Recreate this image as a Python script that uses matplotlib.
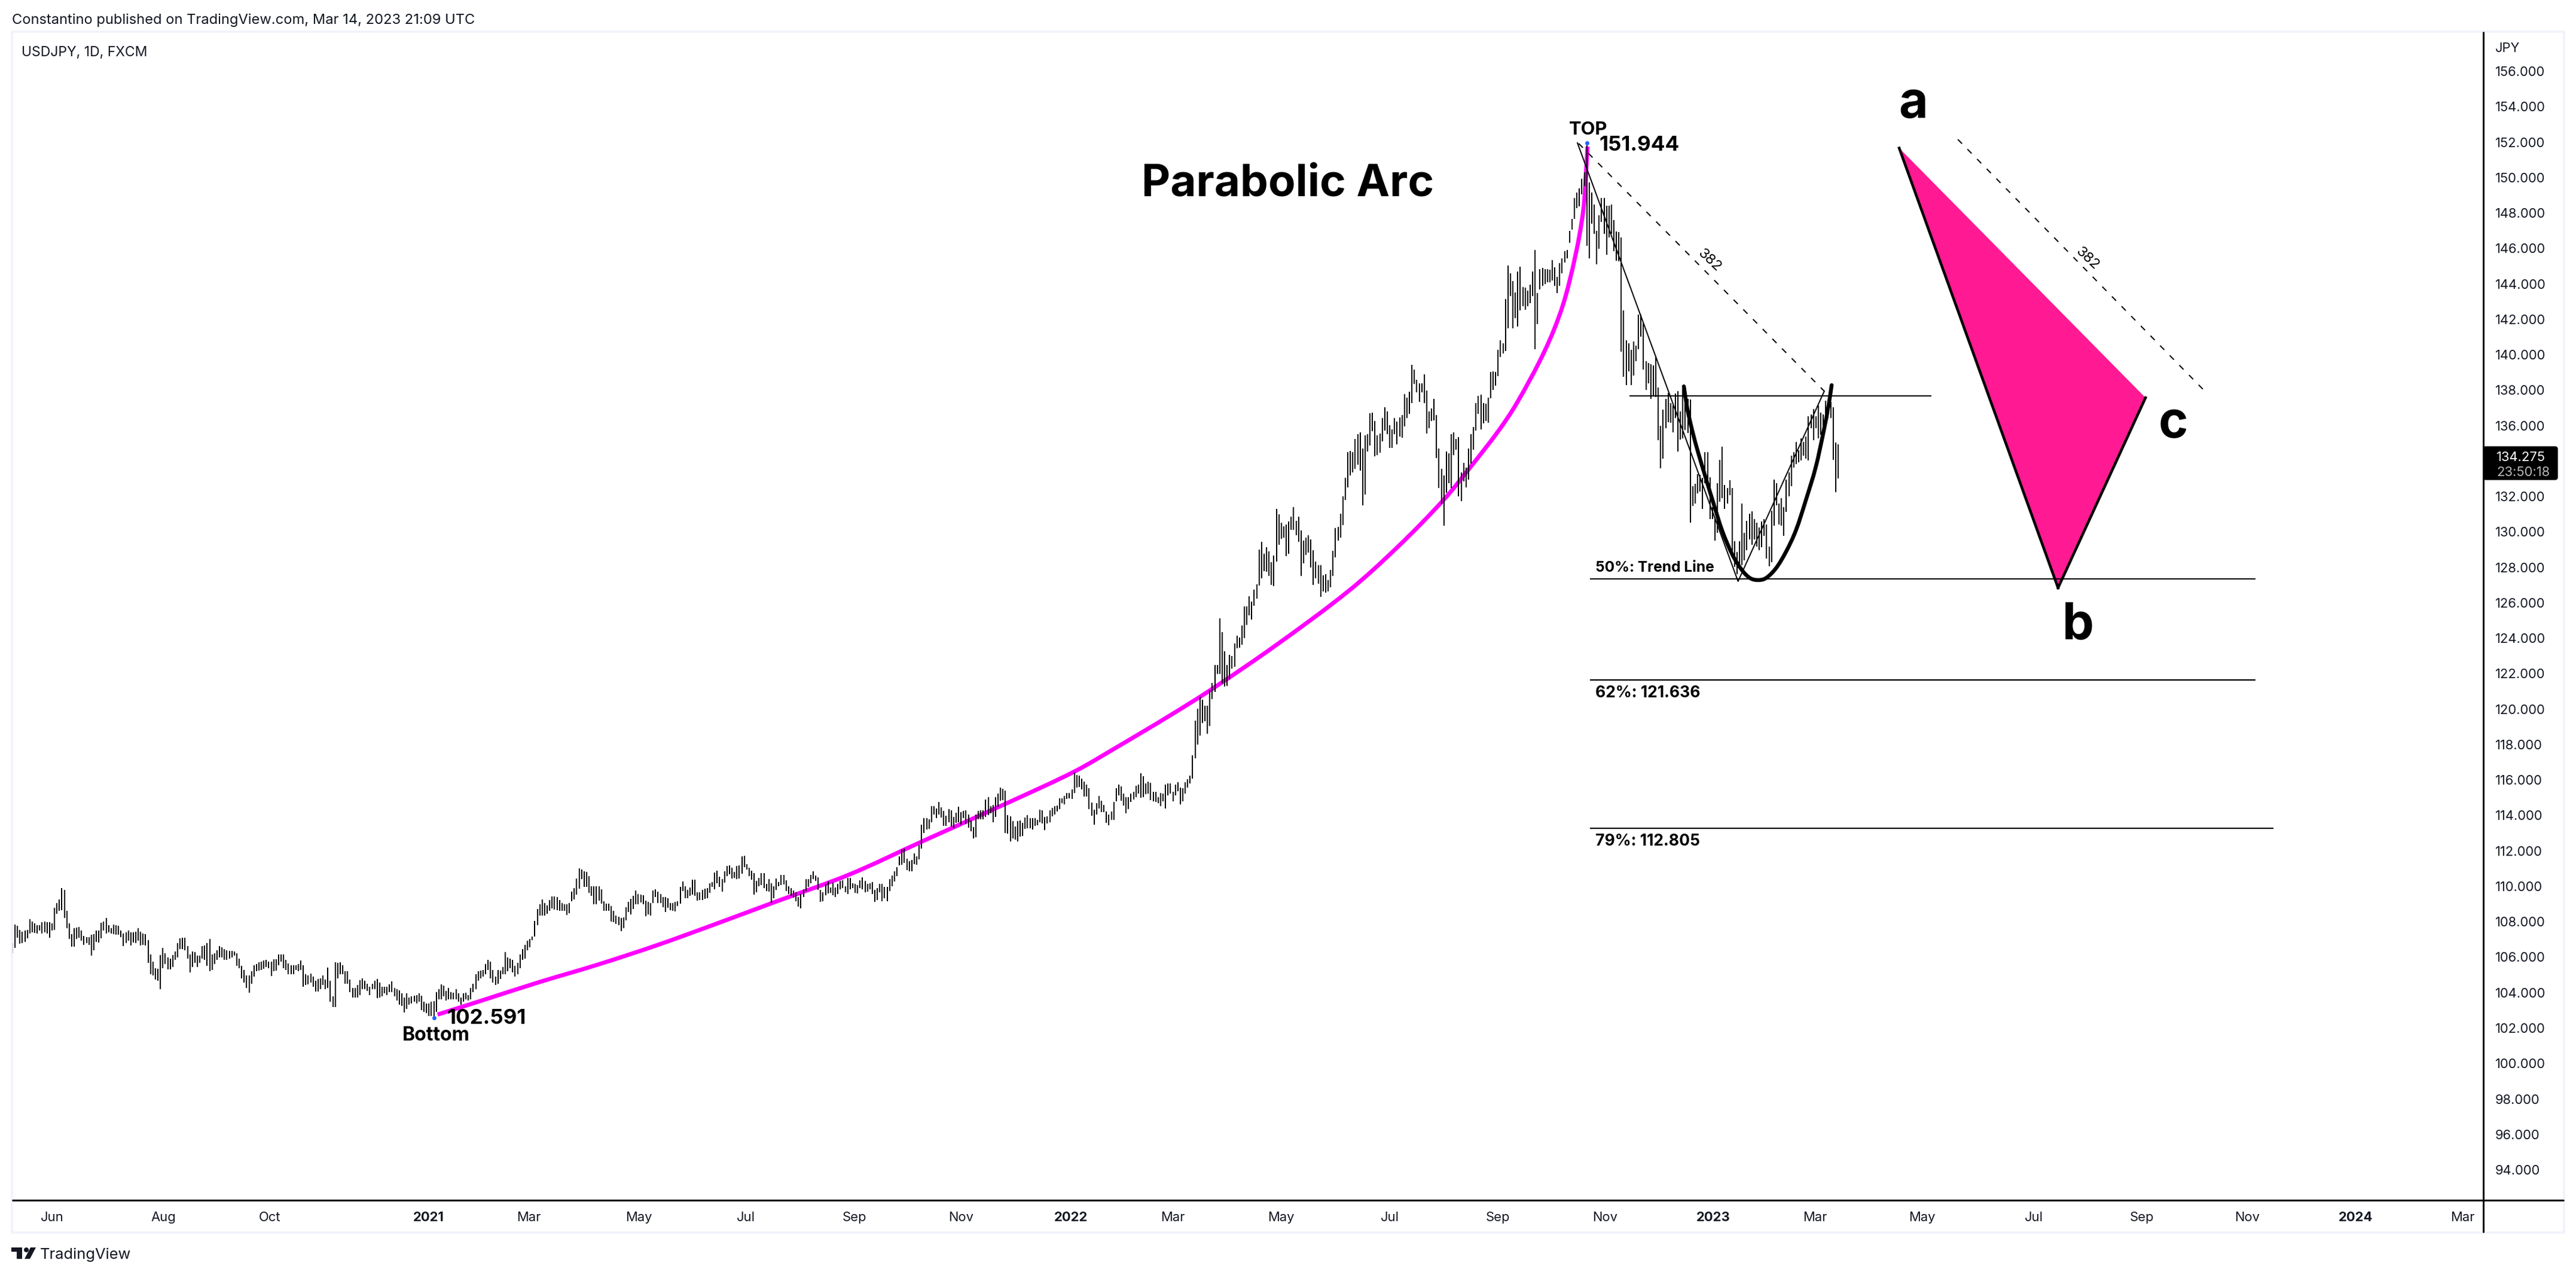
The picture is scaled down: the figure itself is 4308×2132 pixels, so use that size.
import numpy as np
import matplotlib
matplotlib.use("Agg")
import matplotlib.pyplot as plt
from matplotlib.patches import Polygon, Circle, FancyBboxPatch, Rectangle, PathPatch
from matplotlib.path import Path

# ---- Daily bars (high, low) ----
bars_2020 = [
(106.78,106.23),(107.84,106.52),(107.76,107.10),(107.54,106.75),(107.44,106.78),(107.49,106.86),(107.54,107.07),(108.14,107.33),(108.01,107.41),(107.89,107.38),
(107.81,107.33),(107.81,107.49),(107.96,107.33),(108.00,107.41),(107.96,107.33),(107.96,107.10),(107.89,107.49),(108.80,107.54),(109.04,108.44),(109.24,108.60),
(109.89,108.64),(109.78,108.20),(108.61,107.62),(107.89,107.02),(107.29,106.59),(107.65,106.59),(107.68,107.02),(107.71,107.10),(107.49,106.94),(107.21,106.70),
(107.13,106.78),(107.13,106.70),(107.26,106.07),(107.29,106.39),(107.49,106.86),(107.49,106.81),(107.93,107.07),(108.01,107.49),(108.20,107.33),(107.81,107.41),
(107.65,107.33),(107.84,107.29),(107.81,107.26),(107.76,107.26),(107.49,107.13),(107.33,106.63),(107.41,106.78),(107.49,106.94),(107.41,106.67),(107.41,106.81),
(107.44,106.78),(107.62,106.94),(107.44,106.66),(107.33,106.70),(107.29,106.66),(106.97,105.68),(106.15,105.05),(105.76,104.97),(105.37,104.73),(105.33,104.66),
(106.12,104.18),(106.53,105.37),(106.23,105.60),(105.99,105.32),(105.92,105.32),(106.12,105.44),(106.31,105.84),(106.78,105.99),(107.07,106.47),(107.10,106.47),
(107.10,106.39),(106.63,105.92),(106.15,105.13),(106.31,105.44),(106.28,105.68),(106.07,105.44),(106.07,105.68),(106.63,105.92),(106.66,105.84),(106.78,105.52),
(107.02,105.21),(106.15,105.29),(106.23,105.60),(106.39,105.84),(106.63,105.99),(106.55,105.99),(106.47,105.84),(106.39,105.84),(106.34,105.92),(106.34,105.99),
(106.31,106.07),(106.23,105.52),(105.92,105.37),(105.52,104.81),(105.29,104.58),(104.97,104.26),(104.97,103.99),(105.21,104.50),(105.55,104.89),(105.60,105.21),
(105.71,105.24),(105.76,105.29),(105.81,105.33),(105.84,105.44),(105.76,105.37),(105.76,104.94),(105.87,105.21),(105.88,105.24),(106.15,105.55),(106.15,105.76),
(106.15,105.37),(105.84,105.29),(105.65,105.05),(105.55,105.05),(105.55,105.05),(105.55,105.29),(105.60,105.21),(105.81,105.29),(105.55,104.34),(105.05,104.42),
(104.97,104.47),(105.08,104.58),(104.89,104.34),(104.66,104.07),(104.77,104.07),(104.81,104.18),(104.97,104.42),(104.73,104.18),(105.40,104.26),(104.66,103.47),
(103.79,103.19),(105.71,103.19),(105.68,104.81),(105.73,105.05),(105.55,105.05),(105.21,104.50),(105.21,104.50),(104.73,104.03),(104.26,103.71),(104.26,103.71),
(104.42,103.71),(104.70,103.87),(104.81,104.18),(104.66,104.18),(104.50,104.10),(104.34,103.87),(104.50,104.18),(104.66,104.18),(104.77,103.68),(104.58,103.71),
(104.34,103.79),(104.34,103.95),(104.34,103.87),(104.47,104.03),(104.62,104.03),(104.26,103.79),(104.18,103.55),(104.14,103.32),(103.95,103.24),(103.71,102.89),
(103.95,103.08),(103.71,103.32),(103.79,103.40),(103.82,103.47),(103.87,103.40),(103.95,103.47),(103.82,103.00),(103.47,102.92),(103.40,102.84),(103.40,102.69),
(103.47,102.69),(103.52,102.591),
]
bars_2021a = [
(104.03,102.92),(104.18,103.63),(104.47,103.63),(104.39,103.79),(104.10,103.55),(104.26,103.63),(104.03,103.63),(103.98,103.63),(104.18,103.63),(103.95,103.47),
(103.71,103.32),(103.95,103.47),(103.98,103.63),(103.87,103.55),(104.26,103.63),(104.50,104.03),(105.05,104.18),(105.21,104.66),(105.24,104.81),(105.29,104.89),
(105.60,105.05),(105.84,105.29),(105.76,104.81),(105.29,104.58),(104.89,104.42),(105.29,104.50),(105.24,104.77),(105.44,105.05),(106.28,105.05),(105.99,105.21),
(105.92,105.37),(105.84,105.13),(105.52,104.92),(105.68,105.05),(106.15,105.37),(106.47,105.84),(106.70,105.92),(106.94,106.39),(107.02,106.55),(107.18,106.97),
(108.04,107.18),(108.71,107.81),(108.99,108.36),(109.27,108.33),(109.07,108.33),(108.91,108.44),(109.23,108.60),(109.41,108.75),(109.41,108.67),(109.38,108.64),
(109.23,108.60),(109.07,108.60),(108.99,108.60),(108.99,108.39),(109.07,108.49),(109.70,109.15),(109.89,109.27),(110.44,109.54),(111.00,109.86),(110.96,110.41),
(110.85,109.97),(110.80,109.97),(110.56,109.62),(110.01,109.46),(110.01,108.99),
]
bars_2021b = [
(109.99,109.00),(110.01,109.20),(109.82,109.03),(109.17,108.63),(109.03,108.63),(109.03,108.63),(108.89,108.01),(108.60,107.99),(108.35,107.87),(108.27,107.82),
(108.21,107.48),(108.25,107.65),(108.83,108.07),(109.11,108.55),(109.30,108.40),(109.45,108.72),(109.76,109.00),(109.56,109.00),(109.53,109.08),(109.48,109.00),
(109.19,108.31),(109.11,108.40),(109.05,108.36),(109.76,109.05),(109.82,109.39),(109.71,109.05),(109.56,109.05),(109.39,108.83),(109.39,108.55),(109.34,108.80),
(109.05,108.66),(109.05,108.63),(109.11,108.57),(109.17,108.89),(109.95,109.02),(110.27,109.73),(110.01,109.34),(109.79,109.34),(109.93,109.45),(110.37,109.51),
(110.37,109.45),(109.67,109.20),(109.67,109.22),(109.79,109.22),(109.87,109.28),(109.90,109.34),(110.18,109.62),(110.24,109.95),(110.77,109.82),(110.88,110.18),
(110.54,109.95),(110.40,109.71),(110.85,110.20),(111.14,110.57),(111.17,110.69),(111.05,110.43),(110.80,110.46),(111.14,110.40),(111.19,110.43),(111.70,110.72),
(111.72,111.08),(111.25,110.95),(111.05,110.57),(110.88,110.38),(110.74,109.53),(110.29,109.65),(110.46,109.99),(110.74,110.07),(110.74,109.90),(110.12,109.73),
(110.40,109.71),(110.18,109.05),(110.01,109.34),(110.43,109.79),(110.24,110.01),(110.63,110.07),(110.63,110.09),(110.35,109.73),(110.01,109.56),(109.90,109.45),
(109.75,109.37),(109.67,109.17),(109.39,108.85),(109.56,108.74),(109.84,109.39),(110.40,109.73),(110.40,109.95),(110.63,110.18),(110.83,110.40),(110.61,110.29),
(110.52,109.79),(109.79,109.11),(109.67,109.15),(110.12,109.50),(110.27,109.60),(109.93,109.62),(110.20,109.50),(109.93,109.39),(110.12,109.56),(110.29,109.82),
(110.35,109.90),(110.01,109.67),(110.46,109.56),(110.46,109.84),(110.16,109.90),(110.12,109.62),(110.07,109.60),(110.35,109.90),(110.50,109.82),(110.29,109.67),
(110.12,109.71),(110.16,109.82),(110.24,109.56),(109.79,109.11),(109.90,109.22),(110.12,109.67),(110.12,109.17),(109.95,109.34),(109.95,109.15),(110.40,109.73),(110.60,110.00),
(110.83,110.27),(111.08,110.57),(111.70,111.19),(112.09,111.22),(112.12,111.30),(111.55,110.91),(111.40,110.83),(111.47,110.83),(111.87,111.25),(111.70,111.22),
(112.32,111.51),(113.46,112.12),(113.84,113.01),(113.84,113.22),(113.78,113.24),(114.51,113.61),(114.51,114.06),(114.40,113.84),(114.76,114.06),(114.45,113.89),
(114.25,113.42),(113.98,113.42),(114.34,113.61),(114.29,113.39),(113.91,113.27),(114.14,113.58),(114.49,113.61),(114.17,113.46),(114.25,113.84),(114.29,113.50),
(114.06,113.30),(113.72,113.10),(113.33,112.71),(114.06,112.77),(114.25,113.78),(114.29,113.78),(114.29,113.78),(114.88,113.91),(115.02,114.00),(114.51,114.12),
(114.59,113.61),(115.02,113.91),(115.22,114.48),(115.56,114.81),(115.50,114.85),(115.39,112.99),(114.00,112.97),(113.95,112.54),(113.67,112.69),(113.39,112.63),
(113.67,112.54),(113.70,112.80),(113.56,112.82),(113.89,113.24),(114.00,113.27),(113.84,113.27),(113.84,113.22),(113.84,113.41),(113.76,113.44),(114.32,113.61),(114.29,113.53),
(113.91,113.16),(113.95,113.53),(114.29,113.61),(114.43,113.95),(114.51,114.06),(114.55,114.23),(114.96,114.34),(114.96,114.68),(115.10,114.62),(115.27,114.93),
(115.27,114.96),(115.45,114.93),(116.40,115.27),(116.28,115.58),(116.23,115.60),(116.09,115.47),(115.92,115.07),(115.75,115.07),(115.52,114.36),(114.74,113.98),
(114.32,113.48),(114.68,114.06),(115.10,114.40),(114.81,114.17),(114.59,114.17),(114.21,113.58),(114.06,113.44),(114.21,113.76),(114.76,113.76),(115.52,114.79),
(115.75,115.13),(115.64,114.81),(115.22,114.57),(115.02,114.12),(115.02,114.34),(115.24,114.77),(115.33,114.88),(115.67,115.02),(115.73,115.22),(116.37,114.99),
(116.20,115.02),(115.80,115.19),(115.90,115.24),(115.83,114.85),(115.33,114.79),(115.33,114.77),(115.02,114.70),(115.27,114.51),(115.24,114.79),(115.75,114.40),
(115.80,115.13),(115.80,115.24),(115.33,114.79),(115.75,115.13),(115.86,115.36),(115.58,114.62),(115.52,114.79),(115.86,115.22),(116.03,115.58),(116.25,115.80),
(117.38,116.09),
]
bars_2022a = [
(119.35,117.22),(120.02,118.00),(120.70,118.50),(120.53,119.20),(120.20,119.30),(120.20,118.60),
(121.07,119.03),(121.47,120.57),(122.47,120.96),(122.47,121.97),(125.13,121.97),(124.34,121.44),(123.25,121.26),(122.47,121.29),(123.07,121.67),(123.00,122.27),
(123.70,122.38),(124.13,123.43),(124.03,123.48),(124.71,123.63),(125.81,124.00),(125.81,124.76),(126.37,125.29),(126.08,125.06),(126.75,125.84),(127.05,126.23),
(129.01,126.97),(129.43,127.39),(128.75,127.80),(129.13,127.74),(128.90,127.50),(128.30,127.02),(128.65,126.93),(131.28,128.34),(130.98,129.28),(130.51,129.61),
(130.33,129.66),(130.41,128.63),(130.60,128.75),(130.86,130.11),(131.39,130.11),(130.63,129.81),(130.86,129.43),(130.08,127.52),(129.50,128.22),(129.69,128.68),
(129.81,128.83),(129.58,128.00),(128.98,127.02),(128.33,127.39),(128.12,127.09),(128.12,126.34),(127.55,126.64),(127.62,126.57),(127.29,126.64),(127.85,126.87),
(128.93,127.52),(130.23,128.57),(130.29,129.50),(131.01,129.66),(132.02,130.38),(133.05,131.81),(134.51,132.52),(134.58,133.20),(134.51,133.35),(135.23,133.57),
(135.50,133.80),(135.61,133.47),(134.70,131.49),(135.46,132.11),(135.50,134.52),(136.71,134.88),(136.74,135.68),(136.25,134.25),(135.46,134.33),(135.56,134.48),
(136.41,135.11),(137.04,135.73),(136.81,135.53),(136.01,134.73),(135.80,134.75),(136.41,135.53),(136.21,134.93),(136.47,135.38),(136.59,135.31),(137.76,135.94),
(137.57,136.43),(137.91,136.66),(139.42,137.26),(139.16,138.35),(138.59,137.87),(138.39,137.34),(138.39,137.87),(138.88,137.26),(137.97,135.56),(136.81,135.86),
(136.96,136.24),(137.49,136.28),(136.59,134.17),(134.70,132.49),(133.57,131.58),(133.20,130.36),(134.55,132.22),(134.45,132.74),(135.53,132.49),(135.61,134.33),
(135.26,134.63),(135.34,132.02),(133.35,131.73),(133.90,132.85),(133.62,132.52),(134.70,132.94),(135.53,133.87),(135.91,134.63),(137.26,135.71),(137.67,136.66),
(137.75,135.79),(137.26,136.13),(137.23,136.24),(137.57,136.16),(139.04,137.54),(139.07,138.02),(139.04,138.24),(140.28,138.80),(140.80,139.86),(140.65,140.08),
(143.14,140.20),
]
bars_2022b = [
(145.03,141.48),(144.58,143.32),(144.14,141.48),(143.52,142.06),(144.68,141.58),(144.97,142.51),(143.81,142.74),(143.77,142.55),(143.61,142.74),(143.94,142.90),
(144.68,143.32),(145.90,140.32),(143.48,141.73),(144.83,143.67),(144.91,143.90),(144.83,144.00),(144.83,144.10),(144.81,144.10),(145.32,144.19),(144.93,143.90),
(144.39,143.48),(145.16,143.90),(145.45,144.58),(145.84,145.20),(145.92,145.45),(147.00,146.33),(147.68,147.04),(148.85,147.68),(149.14,148.26),(149.39,148.36),
(149.91,149.04),(150.30,149.52),(151.944,146.13),(149.72,145.45),(149.14,147.39),(148.46,146.81),(147.00,145.10),(147.88,145.98),(148.85,147.49),(148.85,146.81),
(148.42,145.65),(148.42,146.62),(148.46,146.81),(147.59,145.84),(146.97,145.30),(146.91,145.26),(146.62,140.18),(142.49,138.77),(140.80,138.28),(140.65,139.06),
(140.28,138.28),(140.74,138.83),(140.51,139.64),(142.26,140.32),(142.26,141.00),(141.77,139.16),(139.64,138.00),(139.54,138.38),(139.45,137.51),(139.39,137.70),
(139.93,137.60),(138.13,135.18),(136.00,133.59),(136.89,134.12),(137.51,135.86),(137.84,136.19),(137.28,136.15),(137.12,135.61),(137.80,136.44),(137.95,134.54),
(136.79,135.22),(138.09,135.28),(137.22,135.76),(137.51,135.57),(137.47,130.53),(132.57,131.46),(132.70,131.60),(133.24,132.18),(133.21,132.28),(133.05,131.31),
(134.50,132.76),(134.50,132.76),(133.09,130.72),(131.40,130.72),(130.82,129.50),(132.76,129.95),(134.06,131.69),(134.80,131.89),(132.66,131.31),(132.47,131.60),
(132.90,132.08),(132.47,128.79),(129.47,128.01),(128.88,127.62),(129.47,127.91),(131.60,128.11),(129.95,128.40),(130.63,128.98),(131.02,129.56),(131.15,129.27),
(130.72,129.56),(130.53,129.17),(130.24,128.98),(130.57,129.14),(130.72,129.76),(130.43,128.50),(129.17,128.05),(131.21,128.30),(132.95,130.34),(132.76,131.50),
(131.60,130.43),(131.89,130.34),(131.40,129.76),(132.95,131.11),(133.34,131.99),(134.31,132.57),(134.50,133.63),(135.08,133.83),(134.60,133.92),(135.28,134.02),
(135.08,134.31),(135.38,134.12),(136.54,134.02),(136.64,135.86),(136.93,135.18),(136.54,135.86),(137.12,135.28),(136.73,135.47),(136.64,135.28),(137.41,135.96),
(137.02,136.44),(137.35,136.44),(137.02,134.06),(135.05,132.24),(134.93,133.00),(134.28,134.25),
]

# ---- Drawings on the chart (bar number, price) ----
arc_x = [172.5,189.1,213.3,237.6,261.9,285,309.6,339.8,369.2,404.1,431.1,448,468.4,486.2,513.1,542.7,562.6,581.1,592.2,603.4,610.9,622.1,629.4,634.5,637.6,638.8,639.3]
arc_y = [102.76,103.49,104.57,105.58,106.69,107.85,109.12,110.67,112.53,114.72,116.48,117.83,119.52,121.07,123.63,126.71,129.2,131.84,133.73,135.75,137.34,140.27,142.84,145.67,148.17,150.5,151.75]
cup_x = [678.4,679.8,681.8,684.2,687.1,690.3,693.9,698,702,705.3,708.5,711.7,715.8,719.8,723.9,727.9,732,735.2,737.2,738.4]
cup_y = [138.21,136.96,135.72,134.48,133.13,131.67,130.09,128.74,127.84,127.39,127.28,127.39,127.95,128.86,130.09,131.78,133.69,135.72,137.18,138.28]
zigzag_x = [635.2,700.4,735.4]
zigzag_y = [151.95,127.21,137.94]
dash1_x = [635.7,735.4]
dash1_y = [151.92,137.94]
dash2_x = [789.6,889.1]
dash2_y = [152.15,138.05]
tri_x = [765.8,830.3,865.8]
tri_y = [151.66,126.84,137.57]
levels = [137.66,127.35,121.65,113.27]
level_start = [656.3,640.3,640.3,640.3]
level_end = [778.8,910.4,910.4,917.7]
extreme_x = [639,171]
extreme_y = [151.944,102.591]

# ---- Axis labels ----
price_ticks = [156,154,152,150,148,146,144,142,140,138,136,132,130,128,126,124,122,120,118,116,114,112,110,108,106,104,102,100,98,96,94]
time_labels = ["Jun","Aug","Oct","2021","Mar","May","Jul","Sep","Nov","2022","Mar","May","Jul","Sep","Nov","2023","Mar","May","Jul","Sep","Nov","2024","Mar"]
time_pos = [16.2,61.2,104.3,169,209.6,254.3,297.6,341.6,385,429.6,471,515,559,603,646.4,690.4,731.7,775,820.4,864.4,907,951,994.4]

bars = bars_2020 + bars_2021a + bars_2021b + bars_2022a + bars_2022b
idx = np.arange(len(bars))
highs = [b[0] for b in bars]
lows = [b[1] for b in bars]


def smooth_path(xs, ys):
    """Bezier path passing through the read points (Catmull-Rom tangents)."""
    pts = np.column_stack([xs, ys])
    verts = [pts[0]]
    codes = [Path.MOVETO]
    for i in range(len(pts) - 1):
        p0 = pts[max(i - 1, 0)]
        p1, p2 = pts[i], pts[i + 1]
        p3 = pts[min(i + 2, len(pts) - 1)]
        h = p2 - p1
        t1 = (p2 - p0) / max(np.hypot(*(p2 - p0)), 1e-9) * np.hypot(*h) / 3
        t2 = (p3 - p1) / max(np.hypot(*(p3 - p1)), 1e-9) * np.hypot(*h) / 3
        verts += [p1 + t1, p2 - t2, p2]
        codes += [Path.CURVE4] * 3
    return Path(verts, codes)


W, H = 4308, 2132
DPI = 100
PT = 72 / DPI
plt.rcParams["font.family"] = ["Inter", "DejaVu Sans"]
fig = plt.figure(figsize=(W / DPI, H / DPI), dpi=DPI, facecolor="white")

L, R, T, B = 20, 4153, 53, 2007
ax = fig.add_axes([L / W, 1 - B / H, (R - L) / W, (B - T) / H])
ax.set_xlim((L - 21) / 4.12, (R - 21) / 4.12)
ax.set_ylim(156 - (B - 119) / 29.63, 156 - (T - 119) / 29.63)
ax.axis("off")

ax.add_patch(PathPatch(smooth_path(arc_x, arc_y), fc="none", ec="#ff00ff", lw=7 * PT, capstyle="butt", joinstyle="round", zorder=2))
ax.vlines(idx, lows, highs, color="black", lw=2 * PT, zorder=3)
ax.add_patch(PathPatch(smooth_path(cup_x, cup_y), fc="none", ec="black", lw=6.5 * PT, capstyle="round", joinstyle="round", zorder=4))
ax.plot(zigzag_x, zigzag_y, color="black", lw=2 * PT, zorder=4)
ax.plot(dash1_x, dash1_y, color="black", lw=2 * PT, dashes=(5, 6.5), zorder=4)
ax.plot(dash2_x, dash2_y, color="black", lw=2 * PT, dashes=(5, 6.5), zorder=4)
for lev, s, e in zip(levels, level_start, level_end):
    ax.hlines(lev, s, e, color="black", lw=2.2 * PT, zorder=4)
ax.fill(tri_x, tri_y, color="#ff1a93", lw=0, zorder=3)
ax.plot(tri_x[:2], tri_y[:2], color="black", lw=4.5 * PT, zorder=4)
ax.plot(tri_x[1:], tri_y[1:], color="black", lw=4.5 * PT, zorder=4)
ax.scatter(extreme_x, extreme_y, s=(7 * PT) ** 2, color="#2962ff", zorder=5, lw=0)

# Overlay in figure pixels for the frame, scales and text
pix = fig.add_axes([0, 0, 1, 1], facecolor="none")
pix.set_xlim(0, W)
pix.set_ylim(H, 0)
pix.axis("off")

frame = "#f0f3fa"
pix.add_patch(Rectangle((L, T), 4288 - L, 2061 - T, fill=False, ec=frame, lw=3.5 * PT))
pix.plot([R, R], [T, 2061], color="black", lw=3 * PT, solid_capstyle="butt")
pix.plot([L, 4288], [B, B], color="black", lw=3 * PT, solid_capstyle="butt")

def t(x, y, s, px, ha="left", weight="normal", color="black", rot=0):
    pix.text(x, y, s, fontsize=px * PT, ha=ha, va="center", fontweight=weight, color=color,
             rotation=rot, rotation_mode="anchor")

t(20, 34, "Constantino published on TradingView.com, Mar 14, 2023 21:09 UTC", 23.7, color="#131722")
t(36, 88, "USDJPY, 1D, FXCM", 23, color="#131722")
t(4173, 81, "JPY", 22, color="#131722")
for p in price_ticks:
    t(4173, 121 + (156 - p) * 29.63, f"{p:.3f}", 22, color="#131722")
pix.add_patch(FancyBboxPatch((4153, 747), 124, 55, boxstyle="round,pad=0,rounding_size=4", fc="black", ec="black", lw=1))
t(4175, 765, "134.275", 22, color="white")
t(4175, 790, "23:50:18", 22, color="#b8b8b8")
for lab, pos in zip(time_labels, time_pos):
    year = lab.isdigit()
    t(21 + 4.12 * pos, 2036, lab, 22, ha="center", weight="bold" if year else "normal", color="#131722")

t(1909, 308, "Parabolic Arc", 74.5, weight="bold")
t(2624, 217, "TOP", 31, weight="bold")
t(2674, 243, "151.944", 35, weight="bold")
t(747, 1703, "102.591", 35, weight="bold")
t(673, 1731, "Bottom", 32, weight="bold")
t(2668, 950, "50%: Trend Line", 24.5, weight="bold")
t(2668, 1159, "62%: 121.636", 26.5, weight="bold")
t(2668, 1407, "79%: 112.805", 26.5, weight="bold")
t(3200, 174, "a", 84, ha="center", weight="bold")
t(3475, 1047, "b", 84, ha="center", weight="bold")
t(3634, 709, "c", 84, ha="center", weight="bold")
t(2859, 436, "382", 24, ha="center", rot=-43)
t(3491, 433, "382", 24, ha="center", rot=-43)

# TradingView logo
logo = "#131722"
pix.add_patch(Polygon([(19, 2086), (37, 2086), (37, 2105), (28, 2105), (28, 2093), (19, 2093)], fc=logo, ec="none"))
pix.add_patch(Circle((44, 2090), 4, fc=logo, ec="none"))
pix.add_patch(Polygon([(51, 2086), (60, 2086), (50, 2105), (41, 2105)], fc=logo, ec="none"))
t(67, 2098, "TradingView", 25.5, color=logo)

fig.savefig("out.png", dpi=DPI, facecolor="white")
